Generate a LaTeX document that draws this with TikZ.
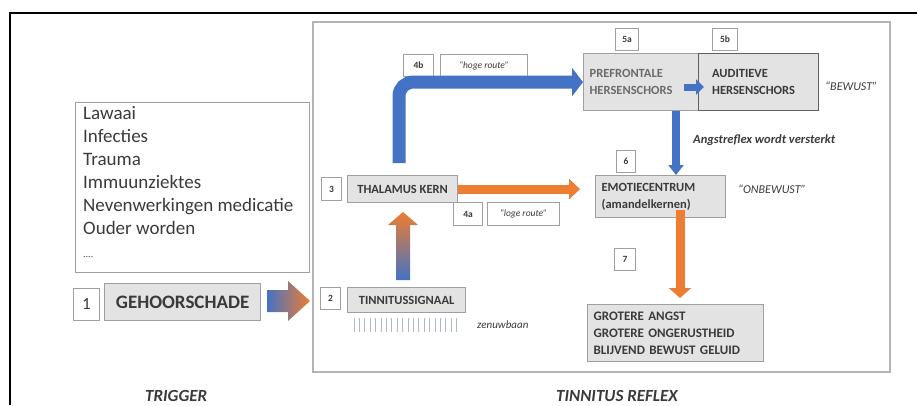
\documentclass[tikz,border=0pt]{standalone}
\usepackage{fontspec}
\setmainfont{Carlito}
\usetikzlibrary{arrows.meta,calc}
\definecolor{tblue}{HTML}{4472C4}
\definecolor{torange}{HTML}{ED7D31}
\definecolor{boxgrey}{HTML}{E3E3E3}
\definecolor{bordergrey}{HTML}{A0A0A0}
\definecolor{txtgrey}{HTML}{3A3A3A}
\definecolor{ticks}{HTML}{A9B8D6}
\tikzset{
  numbox/.style={draw=bordergrey, fill=white, line width=1pt, inner sep=0pt, anchor=north west,
    font=\fontsize{9.5}{10}\selectfont\bfseries, text=txtgrey},
  greybox/.style={draw=bordergrey, fill=boxgrey, line width=1.2pt, inner sep=0pt, anchor=north west,
    font=\fontsize{12.5}{17}\selectfont\bfseries, text=txtgrey},
  lblbox/.style={draw=bordergrey, fill=white, line width=1pt, inner sep=0pt, anchor=north west,
    font=\fontsize{9.5}{10}\selectfont\itshape, text=txtgrey},
  note/.style={font=\fontsize{12}{14}\selectfont\itshape, text=txtgrey, inner sep=0pt}
}
\begin{document}
\begin{tikzpicture}[x=1pt,y=-1pt]
\useasboundingbox (0,0) rectangle (917,405);
% outer frame (cropped)
\draw[black, line width=1.4pt] (10,405) -- (10,13) -- (917,13);
% tinnitus panel
\draw[bordergrey!80, line width=1.2pt] (313,22) rectangle (890,372);
% causes
\node[draw=bordergrey, line width=1.3pt, anchor=north west, minimum width=234pt, minimum height=170pt, inner sep=0pt] (causes) at (75,102) {};
\node[anchor=north west, align=left, inner sep=0pt, font=\fontsize{19}{23}\selectfont, text=txtgrey] (causestxt) at (83,106)
 {Lawaai\\Infecties\\Trauma\\Immuunziektes\\Nevenwerkingen medicatie\\Ouder worden\\{\fontsize{10}{23}\selectfont ....}};
% trigger
\node[numbox, minimum width=26pt, minimum height=32pt, font=\fontsize{17}{18}\selectfont] (n1) at (73,288) {1};
\node[greybox, minimum width=156pt, minimum height=37pt, font=\fontsize{19}{20}\selectfont\bfseries] (geh) at (104,283) {GEHOORSCHADE};
% tinnitus signal
\node[numbox, minimum width=20pt, minimum height=22pt] (n2) at (320,287) {2};
\node[greybox, minimum width=118pt, minimum height=25pt] (sig) at (347,287) {TINNITUSSIGNAAL};
\foreach \i in {0,...,19} \draw[ticks, line width=0.9pt] (354+\i*5.4,318) -- (354+\i*5.4,332);
\node[note, font=\fontsize{11}{12}\selectfont\itshape, anchor=west] (zenuw) at (477,325) {zenuwbaan};
% thalamus
\node[numbox, minimum width=20pt, minimum height=23pt] (n3) at (321,177) {3};
\node[greybox, minimum width=110pt, minimum height=27pt] (thal) at (347,175) {THALAMUS KERN};
\node[numbox, minimum width=29pt, minimum height=23pt] (n4a) at (453,202) {4a};
\node[lblbox, minimum width=72pt, minimum height=23pt] (loge) at (487,202) {“loge route”};
% high route labels
\node[numbox, minimum width=30pt, minimum height=22pt] (n4b) at (403,54) {4b};
\node[lblbox, minimum width=87pt, minimum height=22pt] (hoge) at (440,54) {“hoge route”};
% cortex
\node[numbox, minimum width=23pt, minimum height=22pt] (n5a) at (615,28) {5a};
\node[numbox, minimum width=25pt, minimum height=22pt] (n5b) at (712,28) {5b};
\node[greybox, minimum width=115pt, minimum height=57pt, align=left, text width=103pt, inner xsep=6pt, text=txtgrey!75] (pref) at (583,53) {PREFRONTALE\\HERSENSCHORS};
\node[greybox, draw=bordergrey!60!black, minimum width=120pt, minimum height=57pt, align=left, text width=93pt, inner xsep=13.5pt, text=txtgrey] (aud) at (698,53) {AUDITIEVE\\HERSENSCHORS};
\node[note, anchor=west] (bewust) at (825,86) {“BEWUST”};
% emotion
\node[numbox, minimum width=19pt, minimum height=22pt] (n6) at (616,150) {6};
\node[greybox, minimum width=130pt, minimum height=42pt, align=left, text width=118pt, inner xsep=6pt] (emo) at (595,175) {EMOTIECENTRUM\\(amandelkernen)};
\node[note, anchor=west] (onbewust) at (738,189) {“ONBEWUST”};
\node[note, font=\fontsize{12.5}{14}\selectfont\bfseries\itshape, anchor=west] (angst) at (693,140) {Angstreflex wordt versterkt};
% result
\node[numbox, minimum width=21pt, minimum height=22pt] (n7) at (614,248) {7};
\node[greybox, minimum width=176pt, minimum height=57pt, align=left, text width=164pt, inner xsep=6pt, font=\fontsize{13}{17}\selectfont\bfseries] (res) at (587,304) {GROTERE ANGST\\GROTERE ONGERUSTHEID\\BLIJVEND BEWUST GELUID};
% bottom titles
\node[anchor=base west, inner sep=0pt, font=\fontsize{17}{20}\selectfont\bfseries\itshape, text=txtgrey] (trig) at (145,401) {TRIGGER};
\node[anchor=base west, inner sep=0pt, font=\fontsize{17}{20}\selectfont\bfseries\itshape, text=txtgrey] (refl) at (556,401) {TINNITUS REFLEX};
% ---- arrows ----
% trigger -> signal (gradient)
\shade[left color=tblue, middle color=torange, right color=torange]
  (267,290) -- (288,290) -- (288,281) -- (310,301) -- (288,321) -- (288,312) -- (267,312) -- cycle;
% signal -> thalamus (gradient)
\shade[bottom color=tblue, middle color=torange, top color=torange]
  (396,280) -- (396,225) -- (388,225) -- (403,212) -- (418,225) -- (410,225) -- (410,280) -- cycle;
% high route
\coordinate (hx) at (399,163);
\draw[tblue, line width=13pt, rounded corners=14pt, -{Triangle[length=11pt,width=28pt]}]
  (hx) |- (pref.west);
% low route
\draw[torange, line width=9pt, -{Triangle[length=11pt,width=20pt]}]
  (thal.east) -- ([xshift=-15pt]emo.west |- thal.east);
% prefrontal -> auditory
\draw[tblue, line width=7pt, -{Triangle[length=8pt,width=15pt]}] (684,87) -- (704,87);
% prefrontal -> emotion
\coordinate (bx) at (676,0);
\draw[tblue, line width=8pt, -{Triangle[length=10pt,width=15pt]}] (bx |- pref.south) -- (bx |- emo.north);
% emotion -> result
\coordinate (ox) at (680,0);
\draw[torange, line width=9pt, -{Triangle[length=10pt,width=22pt]}] ([yshift=8pt]ox |- emo.south) -- ([yshift=6pt]ox |- res.north);
\end{tikzpicture}
\end{document}
